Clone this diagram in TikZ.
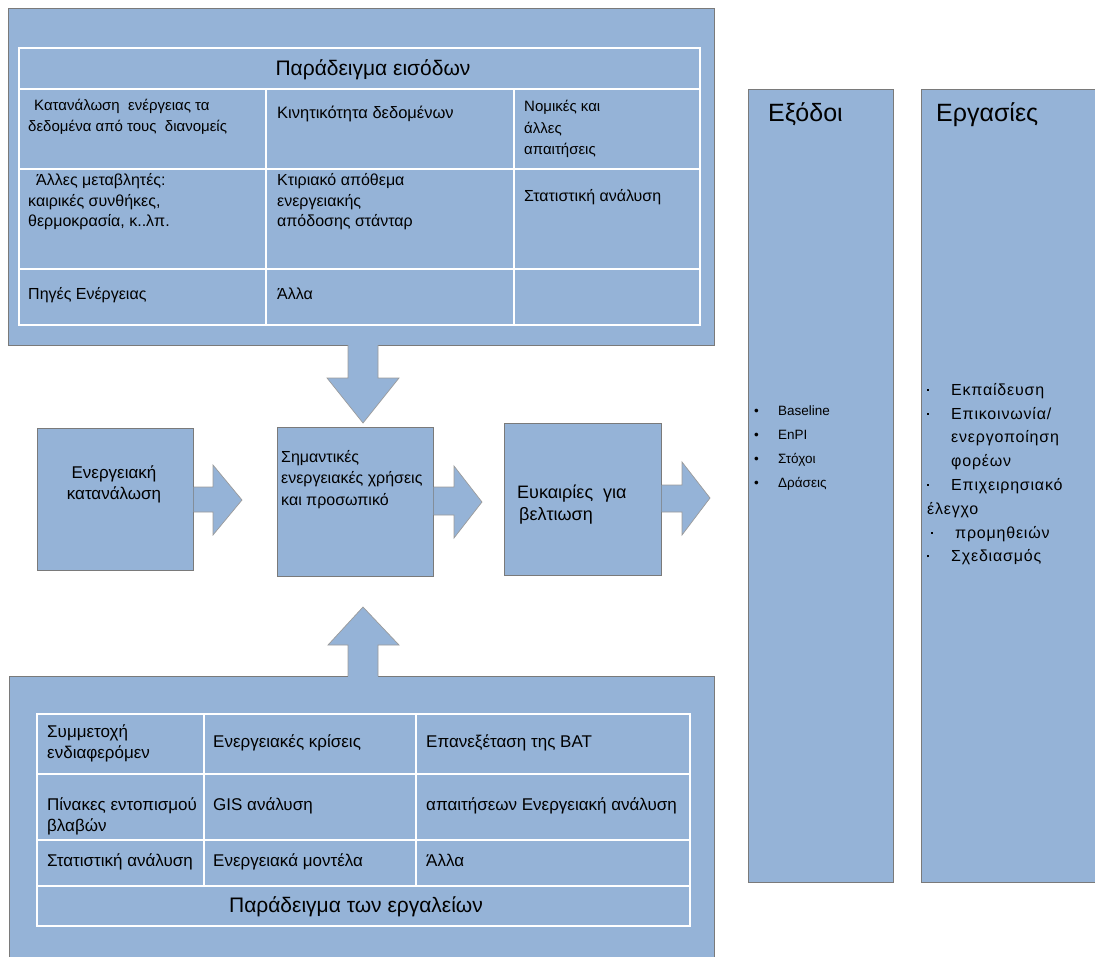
\documentclass[tikz,border=0pt]{standalone}
\usepackage{fontspec}
\setmainfont{Liberation Sans}
\newfontfamily\spacedfont[LetterSpace=5]{Liberation Sans}
\definecolor{boxfill}{RGB}{149,179,215}
\definecolor{boxline}{RGB}{122,122,122}
\newcommand\fz[2]{\fontsize{#1}{#2}\selectfont}
\newcommand\Tstrut{\rule{0pt}{1em}}
\newcommand\sdot{\raisebox{0.28em}{\rule{2pt}{2pt}}}
\begin{document}
\begin{tikzpicture}[x=1pt,y=-1pt,
  blk/.style={draw=boxline, line width=1.3pt, fill=boxfill, rectangle, inner sep=0pt, anchor=north west},
  gridline/.style={draw=white, line width=1.6pt},
  arrfill/.style={fill=boxfill},
  arrline/.style={draw=boxline!75, line width=0.7pt, line join=miter},
  txt/.style={inner sep=0pt, anchor=base west, text=black},
  cell/.style={inner sep=0pt, anchor=north west, align=left, text=black}]
\useasboundingbox (0,0) rectangle (1095,956);
\clip (0,0) rectangle (1095,956);

% ---- boxes
\node[blk, minimum width=706pt, minimum height=337pt] (inputs) at (8,8) {};
\node[blk, minimum width=705pt, minimum height=300pt] (tools) at (9,676) {};
\node[blk, minimum width=156pt, minimum height=142pt] (cons) at (37,428) {};
\node[blk, minimum width=156pt, minimum height=149pt] (seu) at (277,427) {};
\node[blk, minimum width=157pt, minimum height=152pt] (opp) at (504,423) {};
\node[blk, minimum width=145pt, minimum height=793pt] (outs) at (748,89) {};
\node[blk, minimum width=190pt, minimum height=793pt] (tasks) at (921,89) {};

% ---- tables
\draw[gridline] (19,48) rectangle (700,325);
\draw[gridline] (19,89) -- (700,89) (19,169) -- (700,169) (19,269) -- (700,269);
\draw[gridline] (266,89) -- (266,325) (514,89) -- (514,325);
\draw[gridline] (37,714) rectangle (690,926);
\draw[gridline] (37,774) -- (690,774) (37,840) -- (690,840) (37,886) -- (690,886);
\draw[gridline] (204,714) -- (204,886) (416,714) -- (416,886);

% ---- block arrows
\fill[arrfill] (348,342) -- (348,378) -- (327,378) -- (363,423) -- (399,378) -- (378,378) -- (378,342) -- cycle;
\draw[arrline] (348,345) -- (348,378) -- (327,378) -- (363,423) -- (399,378) -- (378,378) -- (378,345);
\fill[arrfill] (348,679) -- (348,645) -- (328,645) -- (363,607) -- (399,645) -- (378,645) -- (378,679) -- cycle;
\draw[arrline] (348,676) -- (348,645) -- (328,645) -- (363,607) -- (399,645) -- (378,645) -- (378,676);
\fill[arrfill] (193.6,487) -- (213,487) -- (213,465) -- (242,500) -- (213,535) -- (213,512) -- (193.6,512) -- cycle;
\draw[arrline] (194,487) -- (213,487) -- (213,465) -- (242,500) -- (213,535) -- (213,512) -- (194,512);
\fill[arrfill] (433.6,487) -- (454,487) -- (454,466) -- (482,502) -- (454,538) -- (454,515) -- (433.6,515) -- cycle;
\draw[arrline] (434,487) -- (454,487) -- (454,466) -- (482,502) -- (454,538) -- (454,515) -- (434,515);
\fill[arrfill] (661.6,485) -- (682,485) -- (682,462) -- (710,498) -- (682,535) -- (682,512) -- (661.6,512) -- cycle;
\draw[arrline] (662,485) -- (682,485) -- (682,462) -- (710,498) -- (682,535) -- (682,512) -- (662,512);

% ---- top table text
\node[anchor=base, inner sep=0pt, font=\fz{21}{25}] (tin) at (373,75) {Παράδειγμα εισόδων};
\node[cell, font=\fz{15}{21}] (c11) at (28,95.5) {\Tstrut\hspace*{6pt}Κατανάλωση\ \ ενέργειας τα\\δεδομένα\ από τους\ \ διανομείς};
\node[txt, font=\fz{16.5}{21}] (c12) at (277,118) {Κινητικότητα δεδομένων};
\node[cell, font=\fz{15}{21.5}] (c13) at (524,96.5) {\Tstrut Νομικές και\\άλλες\\απαιτήσεις};
\node[cell, font=\fz{16}{20.5}] (c21) at (28,169.5) {\Tstrut\hspace*{8pt}Άλλες μεταβλητές:\\καιρικές συνθήκες,\\θερμοκρασία, κ..λπ.};
\node[cell, font=\fz{16}{20.5}] (c22) at (277,169.5) {\Tstrut Κτιριακό απόθεμα\\ενεργειακής\\απόδοσης στάνταρ};
\node[txt, font=\fz{16}{21}] (c23) at (524,201) {Στατιστική ανάλυση};
\node[txt, font=\fz{16}{21}] (c31) at (28,299) {Πηγές Ενέργειας};
\node[txt, font=\fz{16}{21}] (c32) at (277,299) {Άλλα};

% ---- middle row text
\node[cell, align=center, anchor=north, font=\fz{17}{21}] (t1) at (114,461) {\Tstrut Ενεργειακή\\κατανάλωση};
\node[cell, font=\fz{16}{21.5}] (t2) at (281,446) {\Tstrut Σημαντικές\\ενεργειακές χρήσεις\\και προσωπικό};
\node[cell, font=\fz{18}{22}] (t3) at (517,480) {\Tstrut Ευκαιρίες\ \ για\\\hspace*{2pt}βελτιωση};

% ---- bottom table text
\node[cell, font=\fz{17}{21}] (b11) at (47,720) {\Tstrut Συμμετοχή\\ενδιαφερόμεν};
\node[txt, font=\fz{17}{21}] (b12) at (213,747) {Ενεργειακές κρίσεις};
\node[txt, font=\fz{17}{21}] (b13) at (426,747) {Επανεξέταση της BAT};
\node[cell, font=\fz{17}{21}] (b21) at (47,793) {\Tstrut Πίνακες εντοπισμού\\βλαβών};
\node[txt, font=\fz{17}{21}] (b22) at (213,810) {GIS ανάλυση};
\node[txt, font=\fz{17}{21}] (b23) at (426,810) {απαιτήσεων Ενεργειακή ανάλυση};
\node[txt, font=\fz{17}{21}] (b31) at (47,866) {Στατιστική ανάλυση};
\node[txt, font=\fz{17}{21}] (b32) at (213,866) {Ενεργειακά μοντέλα};
\node[txt, font=\fz{17}{21}] (b33) at (426,866) {Άλλα};
\node[anchor=base, inner sep=0pt, font=\fz{21}{25}] (bt) at (356,912) {Παράδειγμα των εργαλείων};

% ---- right columns
\node[txt, font=\fz{25}{30}] (oh) at (768,121) {Εξόδοι};
\node[txt, font=\fz{25}{30}] (wh) at (936,121) {Εργασίες};
\node[cell, font=\fz{13.5}{24}] (ol) at (754,401.5) {\Tstrut\makebox[24pt][l]{•}Baseline\\\makebox[24pt][l]{•}EnPI\\\makebox[24pt][l]{•}Στόχοι\\\makebox[24pt][l]{•}Δράσεις};
\node[cell, font=\spacedfont\fz{16}{23.8}] (wl) at (927,379) {\Tstrut\makebox[24pt][l]{\sdot}Εκπαίδευση\\\makebox[24pt][l]{\sdot}Επικοινωνία/\\\hspace*{24pt}ενεργοποίηση\\\hspace*{24pt}φορέων\\\makebox[24pt][l]{\sdot}Επιχειρησιακό\\έλεγχο\\\hspace*{4pt}\makebox[24pt][l]{\sdot}προμηθειών\\\makebox[24pt][l]{\sdot}Σχεδιασμός};
\end{tikzpicture}
\end{document}
